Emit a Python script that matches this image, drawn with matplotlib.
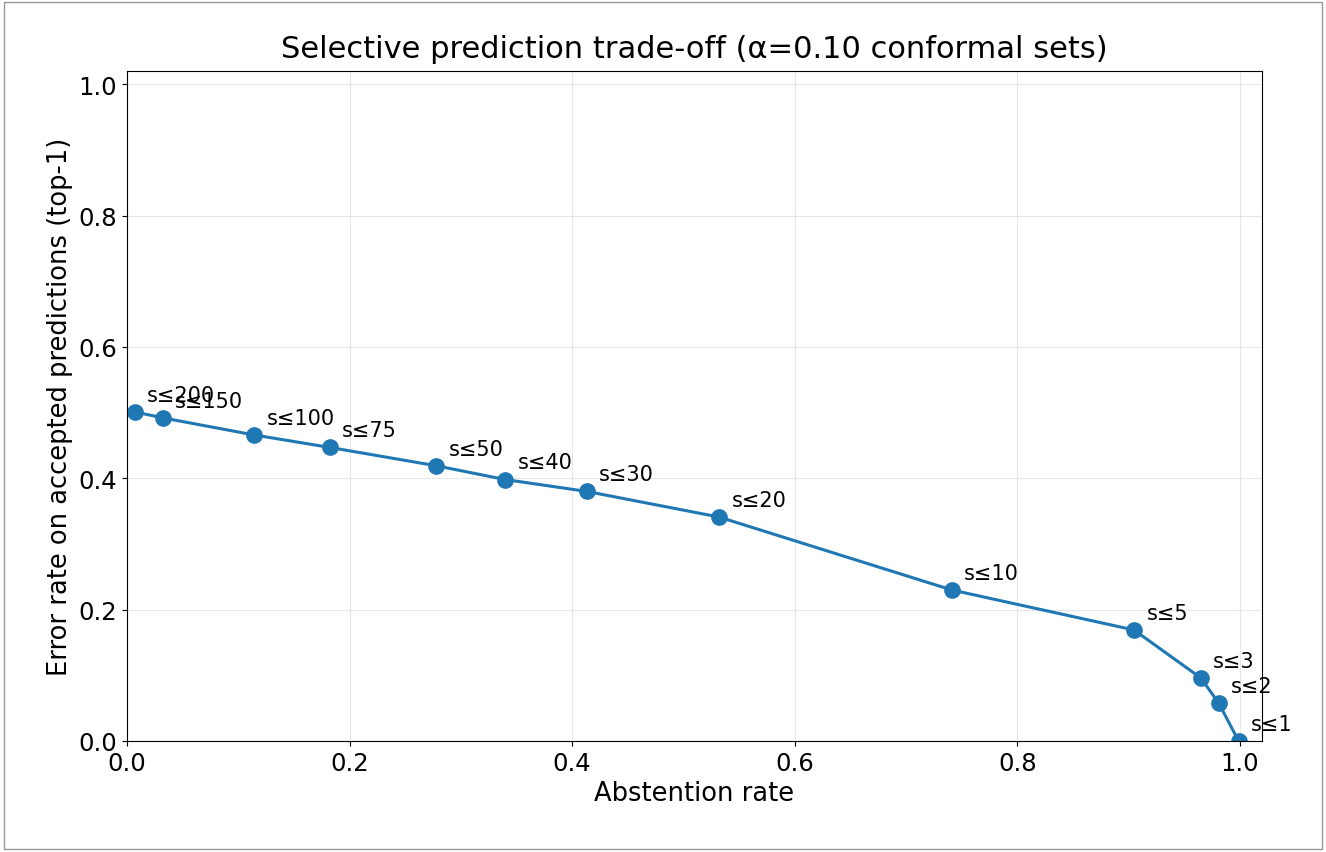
import matplotlib
matplotlib.use("Agg")
import matplotlib.pyplot as plt
from matplotlib.patches import Rectangle

labels = ["s≤200","s≤150","s≤100","s≤75","s≤50","s≤40","s≤30","s≤20","s≤10","s≤5","s≤3","s≤2","s≤1"]
abst = [0.007,0.032,0.114,0.182,0.278,0.340,0.413,0.532,0.741,0.905,0.965,0.981,0.999]
err = [0.501,0.492,0.466,0.447,0.419,0.398,0.380,0.341,0.230,0.169,0.096,0.058,0.0]

fig = plt.figure(figsize=(13.26,8.53), dpi=100)
ax = fig.add_axes([127/1326, 1-742/853, (1262-127)/1326, (742-72)/853])
ax.plot(abst, err, "-o", color="#1f77b4", lw=2.2, ms=11)
for x, y, l in zip(abst, err, labels):
    ax.annotate(l, (x, y), xytext=(9, 8), textcoords="offset points", fontsize=15)
ax.set_xlim(0, 1.02)
ax.set_ylim(0, 1.02)
ax.grid(True, alpha=0.3)
ax.tick_params(labelsize=17.5)
ax.set_xlabel("Abstention rate", fontsize=18.5)
ax.set_ylabel("Error rate on accepted predictions (top-1)", fontsize=18.5)
ax.set_title("Selective prediction trade-off (α=0.10 conformal sets)", fontsize=22, pad=10)
fig.patches.append(Rectangle((0.003,0.003),0.994,0.994, transform=fig.transFigure, fill=False, ec="#999999", lw=1))
fig.savefig("out.png", dpi=100)
